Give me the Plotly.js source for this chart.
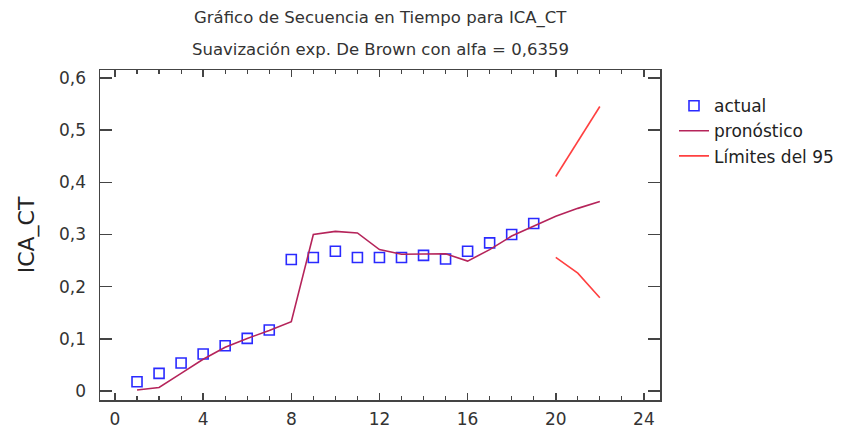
<!DOCTYPE html>
<html>
<head>
<meta charset="utf-8">
<script src="https://cdn.plot.ly/plotly-3.0.1.min.js"></script>
<style>html,body{margin:0;padding:0;background:#fff;}#chart{width:856px;height:431px;}</style>
</head>
<body>
<div id="chart"></div>
<script>
const periods = [1,2,3,4,5,6,7,8,9,10,11,12,13,14,15,16,17,18,19];
const actualValues = [0.018,0.034,0.054,0.071,0.087,0.101,0.117,0.252,0.256,0.268,0.256,0.256,0.256,0.260,0.253,0.268,0.284,0.300,0.321];
const forecastPeriods = [1,2,3,4,5,6,7,8,9,10,11,12,13,14,15,16,17,18,19,20,21,22];
const forecastValues = [0.002,0.007,0.034,0.061,0.084,0.101,0.116,0.133,0.300,0.306,0.303,0.271,0.262,0.262,0.263,0.249,0.271,0.297,0.316,0.335,0.350,0.363];
const limitPeriods = [20,21,22];
const upperLimits = [0.411,0.478,0.545];
const lowerLimits = [0.256,0.226,0.179];
const xTickVals = [0,4,8,12,16,20,24];
const xTickText = ["0","4","8","12","16","20","24"];
const yTickVals = [0,0.1,0.2,0.3,0.4,0.5,0.6];
const yTickText = ["0","0,1","0,2","0,3","0,4","0,5","0,6"];

const font = "DejaVu Sans, Liberation Sans, sans-serif";
const limColor = "#ff4040";
const data = [
  {x: periods, y: actualValues, type: "scatter", mode: "markers", name: "actual",
   marker: {symbol: "square-open", size: 10, color: "#2a2aff", line: {width: 1.6, color: "#2a2aff"}}},
  {x: forecastPeriods, y: forecastValues, type: "scatter", mode: "lines", name: "pronóstico",
   line: {color: "#b5245a", width: 1.6}},
  {x: limitPeriods, y: upperLimits, type: "scatter", mode: "lines", name: "Límites del 95",
   legendgroup: "lim", line: {color: limColor, width: 1.6}},
  {x: limitPeriods, y: lowerLimits, type: "scatter", mode: "lines", name: "Límites del 95",
   legendgroup: "lim", showlegend: false, line: {color: limColor, width: 1.6}}
];
const axisCommon = {showgrid: false, zeroline: false, showline: true, linecolor: "#444", linewidth: 1.5,
  ticks: "inside", mirror: "ticks", tickcolor: "#444", tickwidth: 1.5,
  tickfont: {family: font, size: 17, color: "#333"}};
const layout = {
  width: 856, height: 431,
  margin: {l: 100, r: 196, t: 70, b: 31},
  paper_bgcolor: "#fff", plot_bgcolor: "#fff",
  showlegend: true,
  legend: {x: 1.025, y: 0.945, xanchor: "left", yanchor: "top", font: {family: font, size: 17, color: "#222"},
    tracegroupgap: 0, itemwidth: 30, bgcolor: "rgba(0,0,0,0)", borderwidth: 0},
  annotations: [
    {text: "Gráfico de Secuencia en Tiempo para ICA_CT", xref: "paper", yref: "paper", x: 0.5, y: 1, yshift: 52,
     showarrow: false, xanchor: "center", yanchor: "middle", font: {family: font, size: 16.5, color: "#333"}},
    {text: "Suavización exp. De Brown con alfa = 0,6359", xref: "paper", yref: "paper", x: 0.5, y: 1, yshift: 21,
     showarrow: false, xanchor: "center", yanchor: "middle", font: {family: font, size: 16.5, color: "#333"}}
  ],
  xaxis: Object.assign({}, axisCommon, {range: [-0.68, 24.73], tickvals: xTickVals, ticktext: xTickText, ticklen: 7,
    ticklabelstandoff: 3,
    minor: {dtick: 1, tick0: 0, ticks: "inside", ticklen: 4, tickcolor: "#444", tickwidth: 1.2}}),
  yaxis: Object.assign({}, axisCommon, {range: [-0.017, 0.615], tickvals: yTickVals, ticktext: yTickText, ticklen: 12,
    ticklabelstandoff: 9,
    title: {text: "ICA_CT", font: {family: font, size: 22, color: "#222"}, standoff: 18}})
};
Plotly.newPlot("chart", data, layout, {displayModeBar: false, staticPlot: true});
</script>
</body>
</html>
